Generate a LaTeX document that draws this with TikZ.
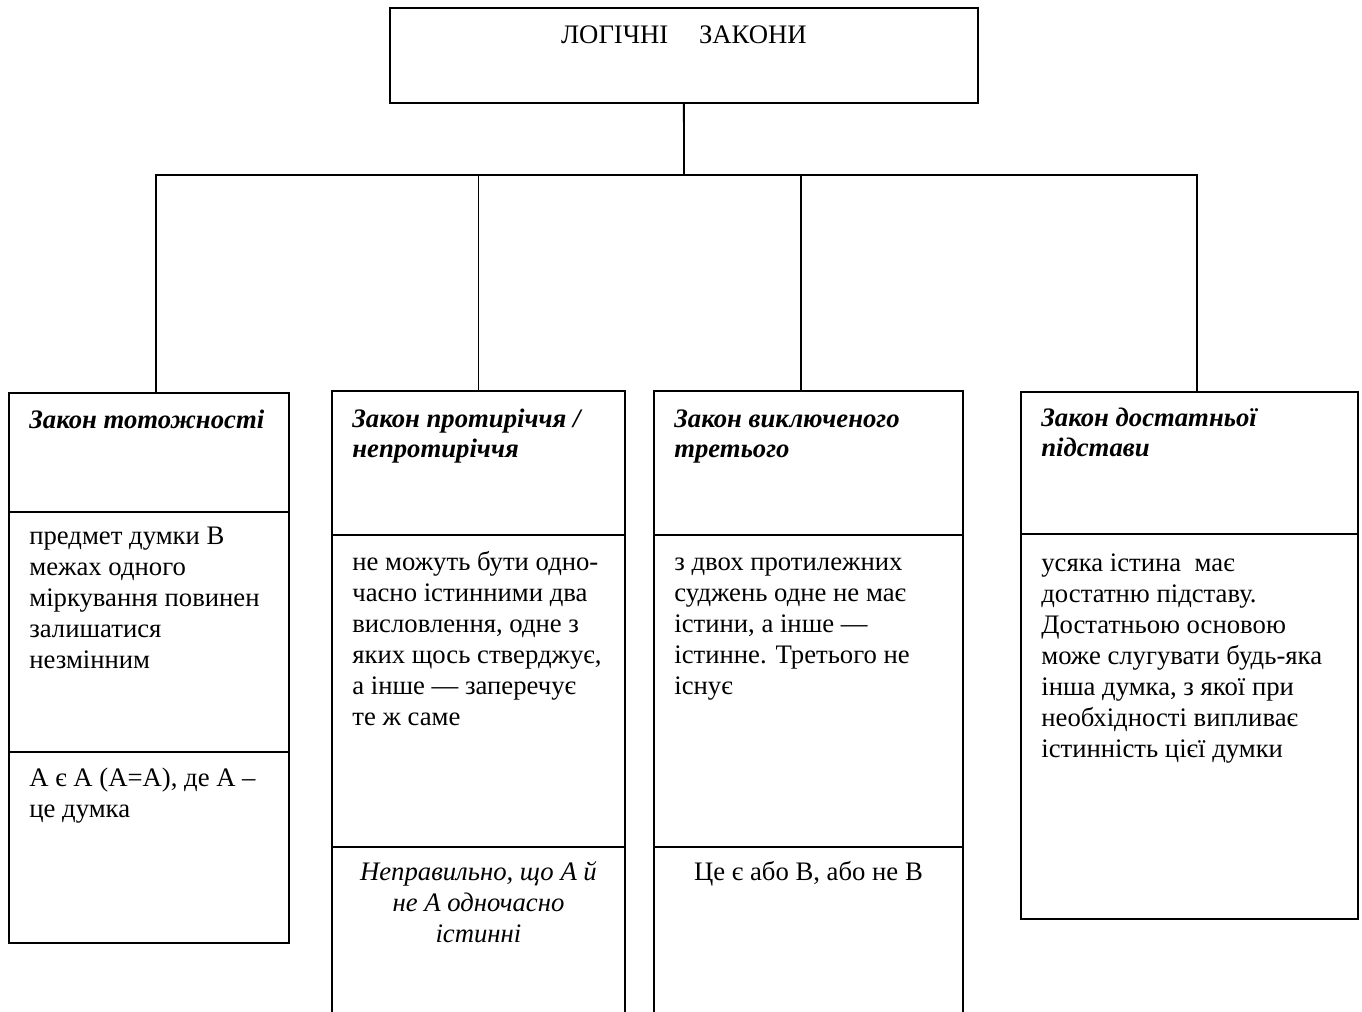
\documentclass[tikz,border=0pt]{standalone}
\usepackage{fontspec}
\setmainfont{Liberation Serif}
\usetikzlibrary{positioning}

\begin{document}
\begin{tikzpicture}[x=0.02cm,y=0.02cm,
 every node/.style={font=\fontsize{15.2}{17.6}\selectfont,inner sep=0pt},
 cell/.style={draw,line width=1.1pt,outer sep=0pt,anchor=north west},
 heading/.style={anchor=north west,align=left,
   font=\fontsize{15.2}{17.6}\selectfont\bfseries\itshape},
 body/.style={anchor=north west,align=left},
 formula/.style={anchor=north,align=center},
 link/.style={line width=1.1pt}]
 \useasboundingbox (0,0) rectangle (1362,-1011);
 % Root of the tree.
 \node[cell,minimum width=11.76cm,minimum height=1.9cm] (root) at (390,-8) {};
 \node[anchor=north] (rootlbl) at ([yshift=-.27cm]root.north)
      {\strut ЛОГІЧНІ\hspace{1.15em}ЗАКОНИ};
 % Column 1
 \node[cell,minimum width=5.6cm,minimum height=2.38cm] (h1) at (9,-393) {};
 \node[cell,minimum width=5.6cm,minimum height=4.8cm,below=0pt of h1] (b1) {};
 \node[cell,minimum width=5.6cm,minimum height=3.82cm,below=0pt of b1] (e1) {};
 \node[heading] (th1) at ([shift={(.4cm,-.27cm)}]h1.north west)
      {\strut Закон тотожності};
 \node[body] (tb1) at ([shift={(.4cm,-.22cm)}]b1.north west)
      {\strut предмет думки В\\межах одного\\міркування повинен\\залишатися\\незмінним};
 \node[body] (te1) at ([shift={(.4cm,-.25cm)}]e1.north west)
      {\strut А є А (А=А), де А –\\це думка};
 % Column 2
 \node[cell,minimum width=5.86cm,minimum height=2.88cm] (h2) at (332,-391) {};
 \node[cell,minimum width=5.86cm,minimum height=6.24cm,below=0pt of h2] (b2) {};
 \node[cell,minimum width=5.86cm,minimum height=4cm,below=0pt of b2] (e2) {};
 \node[heading] (th2) at ([shift={(.4cm,-.28cm)}]h2.north west)
      {\strut Закон протиріччя /\\непротиріччя};
 \node[body] (tb2) at ([shift={(.4cm,-.28cm)}]b2.north west)
      {\strut не можуть бути одно-\\часно істинними два\\висловлення, одне з\\яких щось стверджує,\\а інше — заперечує\\те ж саме};
 \node[formula,font=\fontsize{15.2}{17.6}\selectfont\itshape] (te2)
      at ([yshift=-.24cm]e2.north)
      {\strut Неправильно, що А й\\не А одночасно\\істинні};
 % Column 3
 \node[cell,minimum width=6.18cm,minimum height=2.88cm] (h3) at (654,-391) {};
 \node[cell,minimum width=6.18cm,minimum height=6.24cm,below=0pt of h3] (b3) {};
 \node[cell,minimum width=6.18cm,minimum height=4cm,below=0pt of b3] (e3) {};
 \node[heading] (th3) at ([shift={(.4cm,-.28cm)}]h3.north west)
      {\strut Закон виключеного\\третього};
 \node[body] (tb3) at ([shift={(.4cm,-.28cm)}]b3.north west)
      {\strut з двох протилежних\\суджень одне не має\\істини, а інше —\\істинне. Третього не\\існує};
 \node[formula] (te3) at ([yshift=-.24cm]e3.north)
      {\strut Це є або В, або не В};
 % Column 4
 \node[cell,minimum width=6.74cm,minimum height=2.84cm] (h4) at (1021,-392) {};
 \node[cell,minimum width=6.74cm,minimum height=7.7cm,below=0pt of h4] (b4) {};
 \node[heading] (th4) at ([shift={(.4cm,-.24cm)}]h4.north west)
      {\strut Закон достатньої\\підстави};
 \node[body] (tb4) at ([shift={(.4cm,-.32cm)}]b4.north west)
      {\strut усяка істина\ \ має\\достатню підставу.\\Достатньою основою\\може слугувати будь-яка\\інша думка, з якої при\\необхідності випливає\\істинність цієї думки};
 % Tree connectors
 \coordinate (bus) at (684,-175);
 \draw[link] (root.south) -- (bus);
 \draw[link] (bus) -| ([xshift=.14cm]h1.north);
 \draw[link] (bus) -| (h2.north);
 \draw[link] (bus) -| ([xshift=-.15cm]h3.north);
 \draw[link] (bus) -| ([xshift=.15cm]h4.north);
\end{tikzpicture}
\end{document}
